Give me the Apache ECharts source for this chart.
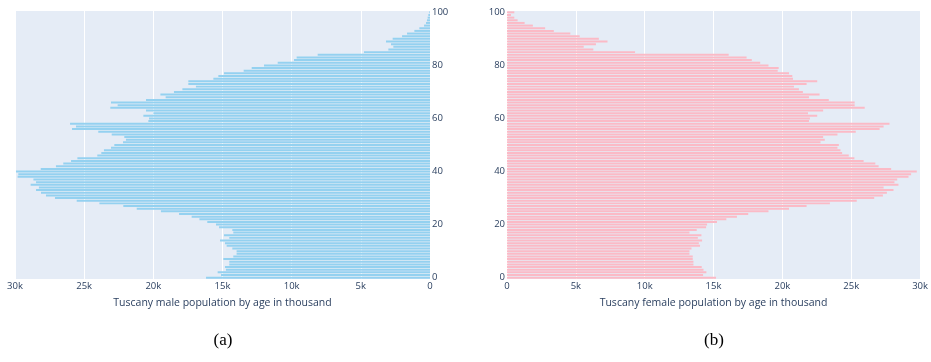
<!DOCTYPE html>
<html>
<head>
<meta charset="utf-8">
<script src="https://cdn.jsdelivr.net/npm/echarts@6/dist/echarts.min.js"></script>
<style>
  html, body { margin: 0; padding: 0; background: #ffffff; }
  #chart { width: 931px; height: 362px; }
</style>
</head>
<body>
<div id="chart"></div>
<script>
// Ages 0..100 (one bar per single year of age)
const ages = Array.from({ length: 101 }, (_, i) => String(i));

// Tuscany male population by age (persons), age 0 first
const malePop = [
  16190, 15110, 15350, 14750, 14820, 14510, 14510, 14940, 14220, 13980,
  13980, 14290, 14700, 14820, 15180, 14510, 14890, 14220, 14290, 15250,
  15470, 16100, 16670, 17230, 18140, 19450, 21200, 22170, 23900, 25540,
  27110, 27760, 28120, 28480, 28270, 28870, 28480, 28670, 29810, 29760,
  29930, 28140, 27040, 26510, 25950, 25490, 24050, 23760, 23570, 23060,
  22820, 22190, 21980, 22100, 23010, 23980, 25880, 25590, 26020, 20360,
  20310, 20720, 20000, 20530, 23110, 22580, 23060, 20530, 19110, 19490,
  18510, 17900, 16920, 17470, 17470, 15660, 15300, 14890, 13470, 12890,
  12000, 11010, 9830, 9640, 8120, 4770, 3010, 2650, 2820, 3180,
  2700, 2020, 1660, 1130, 770, 430, 290, 220, 170, 120,
  50
];

// Tuscany female population by age (persons), age 0 first
const femalePop = [
  15180, 14240, 14480, 14270, 14140, 13540, 13540, 13490, 13490, 13250,
  13250, 13400, 14020, 13930, 14170, 13860, 14120, 13250, 13780, 14460,
  14530, 15250, 15930, 16700, 17520, 18990, 20480, 21760, 23450, 25400,
  26670, 27300, 27590, 28070, 27350, 28430, 28140, 28340, 29160, 29350,
  29760, 27900, 26990, 26750, 25900, 25230, 24820, 24340, 24220, 24000,
  24100, 22770, 23080, 22960, 24000, 25330, 27060, 27350, 27780, 21930,
  22000, 22530, 21860, 22960, 25980, 25250, 25250, 23370, 21930, 22700,
  21490, 21200, 20840, 21760, 22530, 20770, 20720, 20480, 19660, 19730,
  18990, 18390, 17780, 17400, 16100, 9300, 6270, 5570, 6460, 7300,
  6670, 5280, 4600, 3400, 2770, 1880, 1280, 770, 530, 290,
  530
];

// Value-axis ticks every 5k from 0 to 30k
const xTicks = [0, 5000, 10000, 15000, 20000, 25000, 30000];

const textColor = '#2a3f5f';
const plotBg = '#E5ECF6';
const font = 'Open Sans';

function kLabel(v) {
  return v === 0 ? '0' : (v / 1000) + 'k';
}

function valueAxis(gridIndex, inverse, title) {
  return {
    type: 'value',
    gridIndex: gridIndex,
    inverse: inverse,
    min: xTicks[0],
    max: xTicks[xTicks.length - 1],
    interval: xTicks[1] - xTicks[0],
    axisLine: { show: false },
    axisTick: { show: false },
    splitLine: { show: true, lineStyle: { color: '#ffffff', width: 1 } },
    axisLabel: {
      formatter: kLabel,
      color: textColor,
      fontFamily: font,
      fontSize: 9.5,
      margin: 2
    },
    name: title,
    nameLocation: 'middle',
    nameGap: 19,
    nameTextStyle: { color: textColor, fontFamily: font, fontSize: 10.5 }
  };
}

function ageAxis(gridIndex, position) {
  return {
    type: 'category',
    gridIndex: gridIndex,
    data: ages,
    position: position,
    boundaryGap: true,
    axisLine: { show: false },
    axisTick: { show: false },
    splitLine: { show: false },
    axisLabel: {
      interval: 19,
      color: textColor,
      fontFamily: font,
      fontSize: 9.5,
      margin: 2
    }
  };
}

const chart = echarts.init(document.getElementById('chart'), null, { renderer: 'canvas' });

chart.setOption({
  animation: false,
  backgroundColor: '#ffffff',
  grid: [
    { left: 15, right: 501, top: 11, bottom: 83, show: true, backgroundColor: plotBg, borderWidth: 0 },
    { left: 507, right: 9, top: 11, bottom: 83, show: true, backgroundColor: plotBg, borderWidth: 0 }
  ],
  xAxis: [
    valueAxis(0, true, 'Tuscany male population by age in thousand'),
    valueAxis(1, false, 'Tuscany female population by age in thousand')
  ],
  yAxis: [
    ageAxis(0, 'right'),
    ageAxis(1, 'left')
  ],
  series: [
    {
      name: 'Male',
      type: 'bar',
      xAxisIndex: 0,
      yAxisIndex: 0,
      data: malePop,
      barCategoryGap: '25%',
      itemStyle: { color: '#94d1f0' }
    },
    {
      name: 'Female',
      type: 'bar',
      xAxisIndex: 1,
      yAxisIndex: 1,
      data: femalePop,
      barCategoryGap: '25%',
      itemStyle: { color: '#fbbac6' }
    }
  ],
  // Panel captions under each chart
  graphic: [
    {
      type: 'text',
      x: 223, y: 341,
      style: {
        text: '(a)', fill: '#000000',
        font: '17px "Liberation Serif", serif',
        align: 'center', verticalAlign: 'middle'
      }
    },
    {
      type: 'text',
      x: 714, y: 341,
      style: {
        text: '(b)', fill: '#000000',
        font: '17px "Liberation Serif", serif',
        align: 'center', verticalAlign: 'middle'
      }
    }
  ]
});
</script>
</body>
</html>
